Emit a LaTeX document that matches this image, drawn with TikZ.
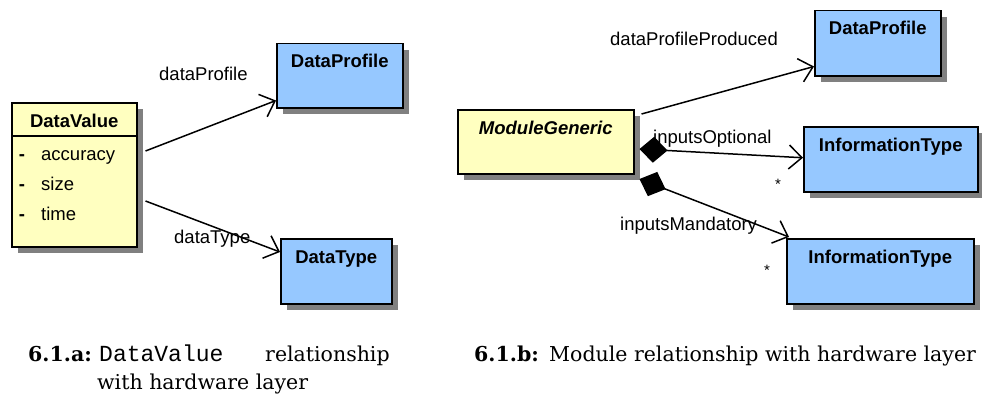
\documentclass[tikz,border=0pt]{standalone}
\usepackage{fontspec}
\setsansfont{Liberation Sans}
\newfontfamily\capmono{Liberation Mono}
\newfontfamily\capserif{DejaVu Serif}
\usetikzlibrary{arrows.meta,shadows,calc}
\definecolor{umlyellow}{RGB}{255,255,192}
\definecolor{umlblue}{RGB}{150,200,255}
\definecolor{shadowgray}{RGB}{128,128,128}
\tikzset{
  umlbox/.style={draw, line width=1.5pt, anchor=north west, inner sep=0pt,
    drop shadow={shadow xshift=6pt, shadow yshift=-6pt, fill=shadowgray, opacity=1}},
  classbox/.style={umlbox, fill=umlyellow},
  typebox/.style={umlbox, fill=umlblue},
  boxtitle/.style={anchor=base, inner sep=0pt, font=\sffamily\bfseries\fontsize{18.5}{22}\selectfont},
  attrtext/.style={anchor=base west, inner sep=0pt, font=\sffamily\fontsize{18.5}{22}\selectfont},
  attrdash/.style={anchor=base, inner sep=0pt, font=\sffamily\bfseries\fontsize{18.5}{22}\selectfont},
  rolelabel/.style={anchor=base west, inner sep=0pt, font=\sffamily\fontsize{18.5}{22}\selectfont},
  multlabel/.style={anchor=center, inner sep=0pt, font=\sffamily\fontsize{15}{16}\selectfont},
  assoc/.style={line width=1.5pt, -{Straight Barb[length=13pt,width=24pt]}},
  compos/.style={line width=1.5pt, {Diamond[length=28pt,width=26pt]}-{Straight Barb[length=13pt,width=24pt]}},
  captext/.style={anchor=base west, inner sep=0pt, font=\capserif\fontsize{20.5}{26}\selectfont},
  capmonotext/.style={anchor=base west, inner sep=0pt, font=\capmono\fontsize{23}{26}\selectfont}
}
\begin{document}
\begin{tikzpicture}[x=1pt,y=-1pt]
\useasboundingbox (0,0) rectangle (982,396);

% ---- left diagram ----
\node[classbox, minimum width=125pt, minimum height=144pt] (dv) at (11,102) {};
\draw[line width=1.5pt] ($(dv.north west)+(0,34)$) -- ($(dv.north east)+(0,34)$);
\node[boxtitle] (dvt) at ($(dv.north)+(0,25)$) {DataValue};
\node[attrdash] (d1) at (22,160) {-};
\node[attrtext] (a1) at (41,160) {accuracy};
\node[attrdash] (d2) at (22,190) {-};
\node[attrtext] (a2) at (41,190) {size};
\node[attrdash] (d3) at (22,220) {-};
\node[attrtext] (a3) at (41,220) {time};

\node[typebox, minimum width=126pt, minimum height=64pt] (dp1) at (276,43) {};
\node[boxtitle] (dp1t) at ($(dp1.north)+(0,24.5)$) {DataProfile};
\node[typebox, minimum width=111pt, minimum height=65pt] (dt) at (280,238) {};
\node[boxtitle] (dtt) at ($(dt.north)+(0,25)$) {DataType};

\coordinate (dvA) at ($(dv.north east)+(8,49)$);
\coordinate (dvB) at ($(dv.north east)+(8,99)$);
\draw[assoc] (dvA) -- ($(dp1.south west)+(0,-8)$);
\draw[assoc] (dvB) -- ($(dt.north west)+(0,14)$);
\node[rolelabel] (l1) at (159,80.5) {dataProfile};
\node[rolelabel] (l2) at (174,243) {dataType};

% ---- right diagram ----
\node[classbox, minimum width=176pt, minimum height=64pt] (mg) at (457,109) {};
\node[boxtitle, font=\sffamily\bfseries\itshape\fontsize{18.5}{22}\selectfont] (mgt) at ($(mg.north)+(0,25)$) {ModuleGeneric};
\node[typebox, minimum width=126pt, minimum height=65pt] (dp2) at (814,10) {};
\node[boxtitle] (dp2t) at ($(dp2.north)+(0,25)$) {DataProfile};
\node[typebox, minimum width=174pt, minimum height=65pt] (it1) at (803,126) {};
\node[boxtitle] (it1t) at ($(it1.north)+(0,25)$) {InformationType};
\node[typebox, minimum width=187pt, minimum height=65pt] (it2) at (786,238) {};
\node[boxtitle] (it2t) at ($(it2.north)+(0,25)$) {InformationType};

\coordinate (mgA) at ($(mg.north east)+(7,5)$);
\coordinate (mgB) at ($(mg.north east)+(5,40)$);
\coordinate (mgC) at ($(mg.north east)+(5,70)$);
\draw[assoc] (mgA) -- ($(dp2.south west)+(0,-10)$);
\draw[compos] (mgB) -- ($(it1.west)+(0,-1.5)$);
\draw[compos] (mgC) -- ($(it2.north west)+(3,-1)$);
\node[rolelabel] (l3) at (610,46) {dataProfileProduced};
\node[rolelabel] (l4) at (653,143) {inputsOptional};
\node[rolelabel] (l5) at (620,230) {inputsMandatory};
\node[multlabel] (m1) at (778,184) {*};
\node[multlabel] (m2) at (767,270) {*};

% ---- captions ----
\node[captext] (capa) at (28,361) {\bfseries 6.1.a:};
\node[capmonotext] (capav) at (99,361) {DataValue};
\node[captext] (capar) at (265,361) {relationship};
\node[captext] (capa2) at (97,389) {with hardware layer};
\node[captext] (capb) at (474,361) {\bfseries 6.1.b:};
\node[captext] (capbt) at (549,361) {Module relationship with hardware layer};
\end{tikzpicture}
\end{document}
